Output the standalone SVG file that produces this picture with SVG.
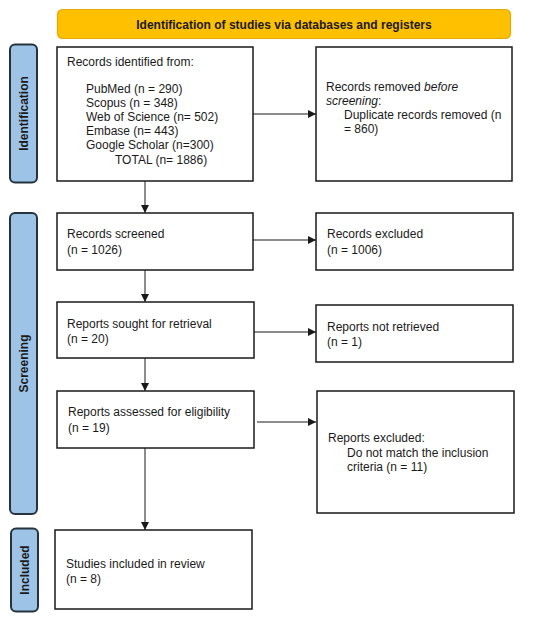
<svg xmlns="http://www.w3.org/2000/svg" width="550" height="621" viewBox="0 0 550 621">
<style>
text{font-family:"Liberation Sans",Arial,sans-serif;font-size:12px;fill:#1a1a1a}
.b{font-weight:bold}
.box{fill:#fff;stroke:#1a1a1a;stroke-width:1.5}
.side{fill:#9DC3E6;stroke:#26323d;stroke-width:2}
.ban{fill:#FFC000;stroke:#E3AA00;stroke-width:1.2}
.con{stroke:#1a1a1a;stroke-width:1;fill:none;marker-end:url(#ah)}
</style>
<defs>
<marker id="ah" viewBox="0 0 10 10" refX="10" refY="5" markerWidth="8" markerHeight="8" markerUnits="userSpaceOnUse" orient="auto">
<path d="M0,0L10,5L0,10z" fill="#1a1a1a"/>
</marker>
</defs>
<rect width="550" height="621" fill="#fff"/>
<g id="banner">
<rect class="ban" x="57.5" y="9.5" width="453" height="29" rx="5"/>
<text class="b" x="284" y="29" text-anchor="middle">Identification of studies via databases and registers</text>
</g>
<g id="side-identification">
<rect class="side" x="10" y="44.5" width="27" height="138" rx="5"/>
<text class="b" transform="translate(28,113.5) rotate(-90)" text-anchor="middle">Identification</text>
</g>
<g id="side-screening">
<rect class="side" x="10" y="213" width="27" height="301" rx="5"/>
<text class="b" transform="translate(28,363.5) rotate(-90)" text-anchor="middle">Screening</text>
</g>
<g id="side-included">
<rect class="side" x="11" y="528.5" width="27" height="83" rx="5"/>
<text class="b" transform="translate(29,570) rotate(-90)" text-anchor="middle">Included</text>
</g>
<g id="identified">
<rect class="box" x="57" y="47" width="196" height="134"/>
<text x="67" y="66">Records identified from:</text>
<text x="86" y="93">PubMed (n = 290)</text>
<text x="86" y="107">Scopus (n = 348)</text>
<text x="86" y="121">Web of Science (n= 502)</text>
<text x="86" y="135">Embase (n= 443)</text>
<text x="86" y="149">Google Scholar (n=300)</text>
<text x="115" y="164">TOTAL (n= 1886)</text>
</g>
<g id="removed">
<rect class="box" x="316" y="47" width="196" height="134"/>
<text x="326" y="91">Records removed <tspan font-style="italic">before</tspan></text>
<text x="326" y="105"><tspan font-style="italic">screening</tspan>:</text>
<text x="344" y="119">Duplicate records removed (n</text>
<text x="344" y="133">= 860)</text>
</g>
<g id="screened">
<rect class="box" x="57" y="213" width="196" height="57"/>
<text x="67" y="238">Records screened</text>
<text x="67" y="254">(n = 1026)</text>
</g>
<g id="excluded1">
<rect class="box" x="316" y="213" width="197" height="57"/>
<text x="327" y="238">Records excluded</text>
<text x="327" y="254">(n = 1006)</text>
</g>
<g id="sought">
<rect class="box" x="57" y="302" width="197" height="56"/>
<text x="67" y="328">Reports sought for retrieval</text>
<text x="67" y="343">(n = 20)</text>
</g>
<g id="notretrieved">
<rect class="box" x="316" y="305" width="197" height="57"/>
<text x="327" y="331">Reports not retrieved</text>
<text x="327" y="346">(n = 1)</text>
</g>
<g id="assessed">
<rect class="box" x="57" y="391" width="197" height="57"/>
<text x="68" y="416">Reports assessed for eligibility</text>
<text x="68" y="432">(n = 19)</text>
</g>
<g id="excluded2">
<rect class="box" x="317" y="391" width="197" height="122"/>
<text x="328" y="442">Reports excluded:</text>
<text x="347" y="457">Do not match the inclusion</text>
<text x="347" y="471">criteria (n = 11)</text>
</g>
<g id="included">
<rect class="box" x="55" y="530" width="197" height="79"/>
<text x="66" y="568">Studies included in review</text>
<text x="66" y="583">(n = 8)</text>
</g>
<g id="connectors">
<path class="con" d="M253,114H316"/>
<path class="con" d="M145,181V213"/>
<path class="con" d="M253,240H316"/>
<path class="con" d="M145,270V302"/>
<path class="con" d="M254,332H316"/>
<path class="con" d="M145,358V391"/>
<path class="con" d="M257,422H316"/>
<path class="con" d="M145,448V530"/>
</g>
</svg>
